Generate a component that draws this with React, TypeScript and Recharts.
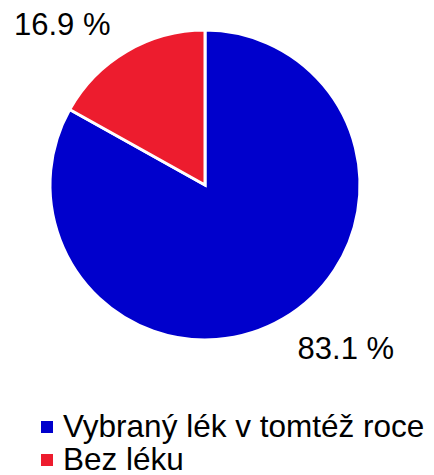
import { PieChart, Pie, Cell, Legend } from 'recharts'

const categories = ['Vybraný lék v tomtéž roce', 'Bez léku']
const values = [83.1, 16.9]
const colors = ['#0000CC', '#ED1C2E']

const data = categories.map((name, i) => ({ name, value: values[i] }))

const FONT = '"Liberation Sans", Arial, sans-serif'
const RADIAN = Math.PI / 180

const renderLabel = (props: any) => {
  const { cx, cy, midAngle, outerRadius, value } = props
  const r = outerRadius + 10
  const c = Math.cos(-midAngle * RADIAN)
  const s = Math.sin(-midAngle * RADIAN)
  const ax = cx + r * c
  const ay = cy + r * s
  const left = c < 0
  const up = s < 0
  return (
    <text
      x={left ? ax - 11 : ax + 9}
      y={up ? ay - 8 : ay + 32}
      textAnchor={left ? 'end' : 'start'}
      fill="#000"
      fontSize={31}
      fontFamily={FONT}
    >
      {value.toFixed(1)} %
    </text>
  )
}

const LegendBox = () => (
  <div style={{ fontFamily: FONT, fontSize: 31.5, color: '#000', lineHeight: '33px' }}>
    {categories.map((c, i) => (
      <div key={c} style={{ display: 'flex', alignItems: 'center', height: 33 }}>
        <span
          style={{
            display: 'inline-block',
            width: 12,
            height: 12,
            background: colors[i],
            marginRight: 10,
          }}
        />
        <span>{c}</span>
      </div>
    ))}
  </div>
)

export default function App() {
  return (
    <div style={{ width: 426, height: 467 }}>
      <PieChart width={426} height={467} margin={{ top: 0, right: 0, bottom: 0, left: 0 }}>
        <Pie
          data={data}
          dataKey="value"
          nameKey="name"
          cx={197}
          cy={177}
          outerRadius={155}
          startAngle={90}
          endAngle={-270}
          stroke="#fff"
          strokeWidth={3}
          label={renderLabel}
          labelLine={false}
          isAnimationActive={false}
        >
          {data.map((d, i) => (
            <Cell key={d.name} fill={colors[i]} />
          ))}
        </Pie>
        <Legend
          content={<LegendBox />}
          wrapperStyle={{ left: 33, top: 402, width: 393 }}
        />
      </PieChart>
    </div>
  )
}
